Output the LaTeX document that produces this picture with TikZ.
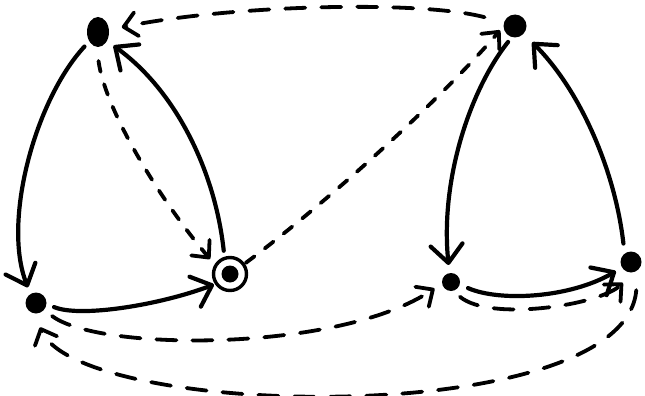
\documentclass[tikz,border=0pt]{standalone}
\usepackage{tikz}
\usetikzlibrary{arrows.meta, shapes.geometric}

\tikzset{
  dot/.style={circle, fill, inner sep=0pt, minimum size=#1},
  ring/.style={circle, draw, line width=3.4pt, inner sep=0pt, minimum size=33pt,
    path picture={\fill (path picture bounding box.center) circle (8.5pt);}},
  edgeline/.style={->, line width=4.2pt, line cap=round},
  dashline/.style={-{Straight Barb[length=13pt, width=24pt, round]}, line width=3.8pt,
    line cap=round, dash pattern=on 20pt off 16pt},
  shortdash/.style={dashline, dash pattern=on 11pt off 13pt}
}

\begin{document}
\begin{tikzpicture}[x=1pt, y=-1pt, >={Straight Barb[length=18pt, width=32pt, round]}]
    \useasboundingbox (0,0) rectangle (645,396);
    % Các đỉnh
    \node[ellipse, fill, inner sep=0pt, minimum width=22pt, minimum height=30pt] (a) at (98,32) {};
    \node[dot=21pt] (b) at (36,303) {};
    \node[ring] (c) at (230,274) {};
    \node[dot=23pt] (d) at (515,26) {};
    \node[dot=18pt] (e) at (451,282) {};
    \node[dot=21pt] (f) at (631,262) {};
    
    % Cung liền
    \draw[edgeline, shorten <=7pt, shorten >=7pt] (a.227) .. controls (35,100) and (2,222) .. (b.121);
    \draw[edgeline, shorten <=6pt, shorten >=8pt] (c.108) .. controls (215,170) and (175,90) .. (a.315);
    \draw[edgeline, shorten <=8pt, shorten >=1pt] (b.-5) .. controls (80,318) and (160,305) .. (c.214);
    \draw[edgeline, shorten <=6pt, shorten >=8pt] (d.254) .. controls (470,90) and (440,180) .. (e.100);
    \draw[edgeline, shorten <=10pt, shorten >=12pt] (f.127) .. controls (615,170) and (580,90) .. (d.-42);
    \draw[edgeline, shorten <=9pt, shorten >=7pt] (e.-16) .. controls (500,302) and (570,298) .. (f.212);
    
    % Cung nét đứt
    \draw[dashline, shorten <=20pt, shorten >=13pt] (d.162) .. controls (420,0) and (230,5) .. (a.11);
    \draw[shortdash, shorten <=14pt, shorten >=7pt] (a.265) .. controls (105,110) and (160,200) .. (c.148);
    \draw[shortdash, shorten <=1pt, shorten >=5pt] (c.35) .. controls (330,200) and (440,100) .. (d.183);
    \draw[dashline, shorten <=10pt, shorten >=9pt] (b.-41) .. controls (100,352) and (340,352) .. (e.189);
    \draw[dashline, shorten <=9pt, shorten >=15pt] (e.-77) .. controls (490,322) and (600,305) .. (f.-76);
    \draw[dashline, shorten <=20pt, shorten >=15pt] (f.-50) .. controls (625,430) and (80,420) .. (b.-100);
\end{tikzpicture}
\end{document}
